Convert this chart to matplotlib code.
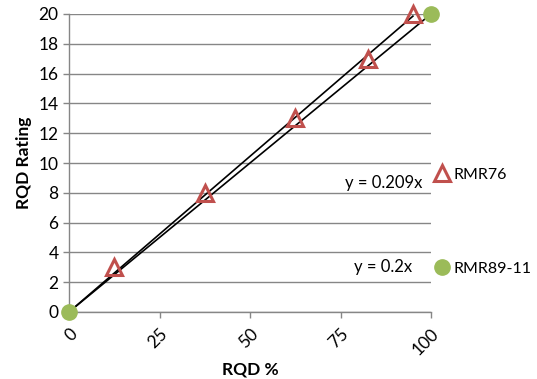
import matplotlib
matplotlib.use("Agg")
import matplotlib.pyplot as plt
import numpy as np

plt.rcParams['font.family'] = ['Lato', 'DejaVu Sans']

rqd76 = [12.5, 37.5, 62.5, 82.5, 95]
rating76 = [3, 8, 13, 17, 20]
rqd89 = [0, 100]
rating89 = [0, 20]
slope76 = 0.209
slope89 = 0.2
xticks = [0, 25, 50, 75, 100]
yticks = list(range(0, 21, 2))

fig = plt.figure(figsize=(5.37, 3.79), dpi=100)
ax = fig.add_axes([69/537, 1-312/379, (431-69)/537, (312-14)/379])

gray = '#868686'
# trendlines
x76 = np.array([0, max(rqd76)])
ax.plot(x76, slope76 * x76, color='black', lw=1.2, zorder=3)
x89 = np.array([0, max(rqd89)])
ax.plot(x89, slope89 * x89, color='black', lw=1.2, zorder=3)

ax.plot(rqd76, rating76, linestyle='none', marker='^', markersize=12,
        markerfacecolor='none', markeredgecolor='#C0504D', markeredgewidth=2.2,
        label='RMR76', zorder=4, clip_on=False)
ax.plot(rqd89, rating89, linestyle='none', marker='o', markersize=11,
        markerfacecolor='#9BBB59', markeredgecolor='#9BBB59',
        label='RMR89-11', zorder=5, clip_on=False)

ax.text(86.8, 8.65, 'y = 0.209x', fontsize=12, ha='center', va='center')
ax.text(86.8, 3.0, 'y = 0.2x', fontsize=12, ha='center', va='center')

ax.set_xlim(0, 100)
ax.set_ylim(0, 20)
ax.set_xticks(xticks)
ax.set_yticks(yticks)
ax.set_xticklabels([str(t) for t in xticks], rotation=45, ha='right',
                   rotation_mode='anchor', fontsize=12.5)
ax.set_yticklabels([str(t) for t in yticks], fontsize=12.5)
ax.yaxis.grid(True, color=gray, lw=1)
ax.set_axisbelow(True)
for s in ['top', 'right']:
    ax.spines[s].set_visible(False)
for s in ['left', 'bottom']:
    ax.spines[s].set_color(gray)
    ax.spines[s].set_linewidth(1)
ax.tick_params(axis='both', colors=gray, length=4, width=1, labelcolor='black')
ax.tick_params(axis='x', pad=6)

ax.set_xlabel('RQD %', fontsize=12.5, fontweight='bold', labelpad=2)
ax.set_ylabel('RQD Rating', fontsize=12.5, fontweight='bold', labelpad=5)

leg = ax.legend(loc='center left', bbox_to_anchor=(436/537, 1-221.5/379),
                bbox_transform=fig.transFigure, frameon=False, fontsize=11.5,
                handlelength=0.8, handletextpad=0.3, labelspacing=5.0,
                borderaxespad=0, borderpad=0)

fig.savefig('out.png', dpi=100)
